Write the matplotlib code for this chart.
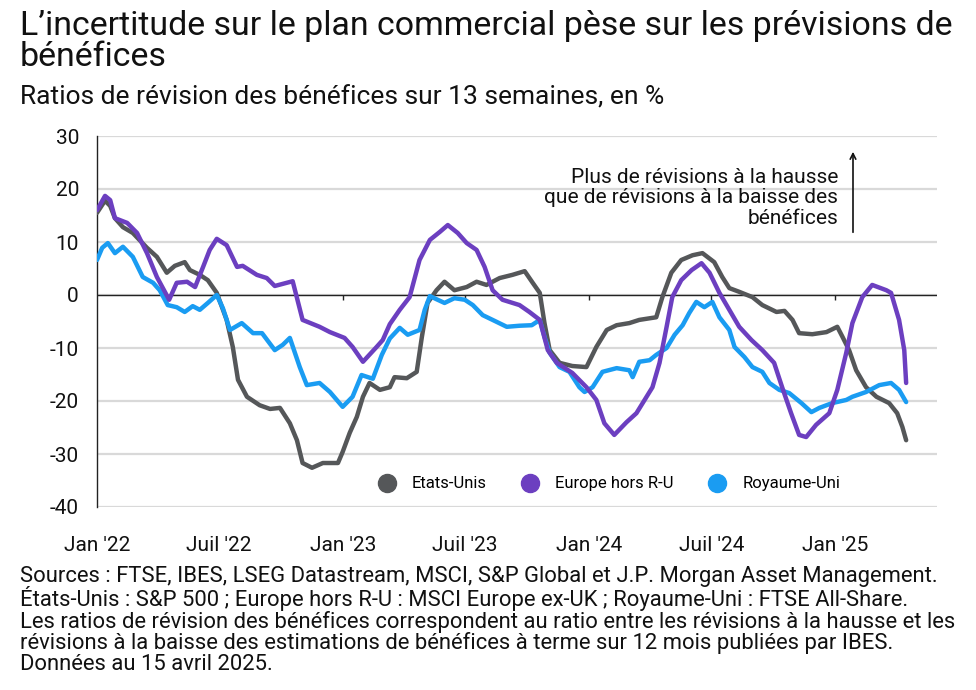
import matplotlib
matplotlib.use("Agg")
import matplotlib.pyplot as plt
from matplotlib.lines import Line2D
import numpy as np
import pandas as pd

plt.rcParams["font.family"] = ["Roboto", "DejaVu Sans"]
plt.rcParams["axes.unicode_minus"] = False

START = pd.Timestamp("2022-01-01")

# weeks since 1 Jan 2022, 13-week earnings revision ratio (%)
us_weeks = [0.0, 1.7, 2.8, 3.8, 5.5, 7.6, 10.6, 12.7, 14.8, 16.5, 18.6, 19.7, 21.8, 23.5,
            25.4, 27.5, 28.8, 29.9, 31.8, 34.5, 36.7, 38.8, 40.9, 42.4, 43.6, 45.6, 47.9,
            51.1, 52.1, 53.6, 55.1, 56.4, 57.8, 60.0, 62.1, 63.1, 65.7, 67.8, 68.9, 70.1,
            72.0, 73.7, 75.8, 78.4, 80.5, 82.6, 85.4, 88.1, 90.7, 92.4, 93.9, 94.9, 96.0,
            98.1, 100.8, 103.8, 105.9, 108.1, 110.2, 112.9, 115.0, 118.6, 119.9, 121.8,
            123.9, 126.3, 128.4, 130.9, 132.6, 134.1, 136.2, 139.0, 141.1, 144.1, 145.8,
            147.5, 148.9, 151.7, 154.7, 157.0, 158.1, 159.5, 161.0, 163.1, 165.3, 168.0,
            169.7, 170.8, 171.6]
us_vals = [15.5, 17.8, 16.8, 14.5, 12.8, 11.7, 8.9, 7.2, 4.2, 5.5, 6.2, 4.7, 3.8, 2.8,
           0.4, -4.7, -9.8, -16.0, -19.2, -20.8, -21.5, -21.3, -24.2, -27.4, -31.7, -32.6,
           -31.7, -31.7, -29.6, -26.0, -23.0, -19.2, -16.6, -17.9, -17.4, -15.5, -15.7,
           -14.5, -7.9, -1.5, 0.9, 2.5, 0.9, 1.5, 2.5, 1.9, 3.2, 3.8, 4.5, 2.3, 0.4, -5.3,
           -10.4, -12.8, -13.4, -13.6, -9.8, -6.6, -5.7, -5.3, -4.7, -4.2, -0.4, 4.2, 6.6,
           7.5, 7.9, 6.2, 3.4, 1.3, 0.6, -0.4, -1.9, -3.2, -3.0, -4.7, -7.2, -7.4, -7.0,
           -6.0, -7.9, -10.4, -14.2, -17.4, -19.2, -20.4, -22.3, -24.9, -27.4]

eu_weeks = [0.0, 1.7, 2.8, 3.8, 6.4, 8.5, 10.6, 12.7, 15.3, 16.9, 19.1, 20.8, 22.5, 23.9,
            25.4, 27.5, 29.7, 30.9, 33.9, 36.0, 37.7, 41.5, 43.6, 47.2, 49.4, 52.5, 54.2,
            56.4, 59.3, 60.6, 62.1, 64.2, 66.3, 68.4, 70.6, 72.7, 74.4, 76.5, 78.4, 80.5,
            82.2, 83.9, 86.0, 89.6, 91.7, 93.9, 95.6, 97.5, 100.8, 103.8, 105.9, 107.6,
            109.7, 112.3, 114.4, 117.8, 119.3, 120.8, 122.0, 123.9, 126.1, 128.2, 129.9,
            132.0, 134.1, 136.2, 138.8, 141.1, 143.6, 145.3, 147.2, 148.9, 150.4, 152.5,
            155.3, 157.0, 158.9, 160.2, 162.3, 164.4, 167.4, 168.4, 170.1, 171.2, 171.6]
eu_vals = [16.0, 18.7, 17.9, 14.5, 13.6, 11.7, 7.9, 3.4, -0.9, 2.3, 2.5, 1.5, 5.3, 8.5,
           10.6, 9.4, 5.3, 5.5, 3.8, 3.2, 1.7, 2.6, -4.7, -6.0, -7.0, -8.1, -9.8, -12.6,
           -9.8, -8.5, -5.5, -2.8, -0.4, 6.6, 10.4, 11.9, 13.2, 11.7, 9.8, 8.5, 5.3, 0.9,
           -0.9, -1.9, -3.2, -4.7, -10.4, -12.8, -14.7, -17.4, -19.8, -24.2, -26.4, -24.0,
           -22.3, -17.4, -12.8, -6.0, -0.4, 2.8, 4.7, 6.0, 4.2, 0.4, -2.8, -6.0, -8.5,
           -10.4, -12.8, -17.4, -22.3, -26.4, -26.8, -24.5, -22.3, -17.9, -10.9, -5.3,
           -0.4, 1.9, 0.9, 0.4, -4.7, -10.4, -16.6]

uk_weeks = [0.0, 1.1, 2.3, 3.8, 5.5, 7.6, 9.7, 11.9, 13.3, 15.0, 16.9, 18.6, 20.3, 21.8,
            23.5, 25.4, 26.7, 28.2, 30.7, 33.1, 35.0, 37.7, 39.4, 40.9, 43.0, 44.5, 47.2,
            49.4, 52.1, 54.2, 56.1, 58.5, 60.4, 62.1, 64.2, 65.9, 68.4, 69.5, 70.6, 72.0,
            73.7, 75.8, 78.0, 79.7, 81.8, 83.9, 86.9, 89.6, 92.2, 93.9, 94.9, 96.0, 98.1,
            100.2, 102.3, 103.4, 105.1, 107.2, 110.2, 112.9, 113.6, 115.0, 117.2, 118.6,
            120.8, 122.5, 124.2, 125.6, 127.1, 128.8, 130.5, 132.0, 134.1, 135.2, 137.3,
            139.0, 141.1, 142.6, 144.7, 146.8, 149.4, 151.5, 153.2, 155.9, 158.9, 160.2,
            163.1, 165.9, 168.4, 170.1, 171.6]
uk_vals = [6.6, 8.9, 9.8, 7.9, 9.1, 7.2, 3.4, 2.3, 0.9, -1.9, -2.3, -3.2, -2.1, -2.8,
           -1.5, 0.0, -2.5, -6.6, -5.3, -7.2, -7.2, -10.4, -9.4, -8.1, -13.6, -17.0, -16.6,
           -18.3, -21.1, -19.2, -15.1, -15.8, -11.3, -8.2, -6.2, -7.5, -6.6, -2.8, -0.2,
           -0.8, -1.5, -0.6, -0.9, -1.9, -3.8, -4.7, -6.0, -5.8, -5.7, -4.7, -7.9, -10.9,
           -13.6, -14.5, -17.4, -18.3, -17.4, -14.5, -13.8, -14.2, -15.5, -12.6, -12.3,
           -11.3, -10.0, -7.5, -5.7, -3.4, -1.3, -2.3, -1.3, -4.2, -6.6, -9.8, -11.7, -13.6,
           -14.5, -16.6, -17.9, -18.5, -20.4, -22.1, -21.3, -20.4, -19.8, -19.2, -18.3,
           -17.0, -16.6, -17.9, -20.2]

series_names = ["Etats-Unis", "Europe hors R-U", "Royaume-Uni"]
series_colors = ["#555759", "#6c3fc0", "#1a9cf2"]

tick_dates = ["2022-01-01", "2022-07-01", "2023-01-01", "2023-07-01",
              "2024-01-01", "2024-07-01", "2025-01-01"]
tick_labels = ["Jan '22", "Juil '22", "Jan '23", "Juil '23", "Jan '24", "Juil '24", "Jan '25"]
y_ticks = [30, 20, 10, 0, -10, -20, -30, -40]

title = "L’incertitude sur le plan commercial pèse sur les prévisions de\nbénéfices"
subtitle = "Ratios de révision des bénéfices sur 13 semaines, en %"
note = "Plus de révisions à la hausse\nque de révisions à la baisse des\nbénéfices"
footer = (
    "Sources : FTSE, IBES, LSEG Datastream, MSCI, S&P Global et J.P. Morgan Asset Management.\n"
    "États-Unis : S&P 500 ; Europe hors R-U : MSCI Europe ex-UK ; Royaume-Uni : FTSE All-Share.\n"
    "Les ratios de révision des bénéfices correspondent au ratio entre les révisions à la hausse et les\n"
    "révisions à la baisse des estimations de bénéfices à terme sur 12 mois publiées par IBES.\n"
    "Données au 15 avril 2025."
)


def to_dates(weeks):
    return START + pd.to_timedelta(np.asarray(weeks) * 7, unit="D")


fig = plt.figure(figsize=(9.76, 6.9), dpi=100)
ax = fig.add_axes([97 / 976, 1 - 507 / 690, 840 / 976, 371 / 690])

data = [(us_weeks, us_vals), (eu_weeks, eu_vals), (uk_weeks, uk_vals)]
zorders = [3, 5, 4]
for (weeks, vals), color, z in zip(data, series_colors, zorders):
    ax.plot(to_dates(weeks), vals, color=color, lw=3.2, zorder=z,
            solid_joinstyle="round", solid_capstyle="round")

ticks = pd.to_datetime(tick_dates)
ax.set_xlim(START, pd.Timestamp("2025-06-01"))
ax.set_ylim(-40, 30)
ax.set_yticks(y_ticks)
ax.set_yticklabels([str(v) for v in y_ticks])
ax.set_xticks(ticks)
ax.set_xticklabels(tick_labels)
ax.tick_params(axis="x", length=0, pad=21, labelsize=15, colors="#111111")
ax.tick_params(axis="y", length=0, pad=13, labelsize=15, colors="#111111")

ax.grid(axis="y", color="#d9d9d9", lw=1.6, zorder=0)
ax.set_axisbelow(True)
for side in ("top", "right", "bottom"):
    ax.spines[side].set_visible(False)
ax.spines["left"].set_color("#222222")
ax.spines["left"].set_linewidth(1.0)
ax.axhline(0, color="#222222", lw=1.0, zorder=2)
ax.vlines(ticks[1:], -0.9, 0, color="#222222", lw=1.0, zorder=2)

handles = [Line2D([], [], ls="none", marker="o", markersize=13, color=c) for c in series_colors]
ax.legend(handles, series_names, loc="center", bbox_to_anchor=(0.605, 0.062), ncol=3,
          frameon=False, fontsize=12, handletextpad=0.5, columnspacing=1.6)

ax.text(0.882, 0.833, note, transform=ax.transAxes, ha="right", va="center",
        fontsize=15, linespacing=1.1, color="#111111")
ax.annotate("", xy=(0.9, 0.965), xytext=(0.9, 0.733), xycoords="axes fraction",
            arrowprops=dict(arrowstyle="->", lw=1.2, color="#111111"))

fig.text(20 / 976, 1 - 10 / 690, title, ha="left", va="top", fontsize=24.4,
         linespacing=0.95, color="#111111")
fig.text(20 / 976, 1 - 85 / 690, subtitle, ha="left", va="top", fontsize=19, color="#111111")
fig.text(20 / 976, 1 - 566 / 690, footer, ha="left", va="top", fontsize=15.8,
         linespacing=0.97, color="#111111")

fig.savefig("out.png", dpi=100)
